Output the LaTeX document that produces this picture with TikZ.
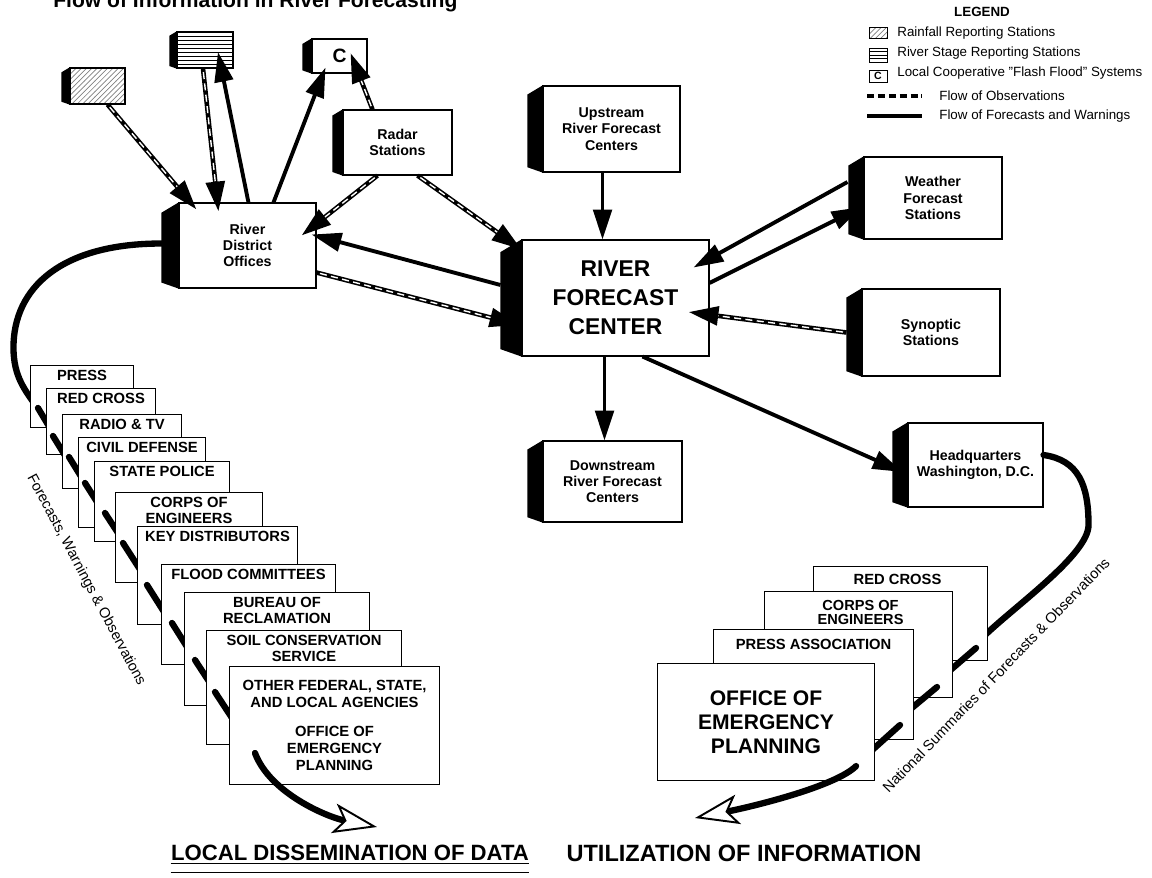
\documentclass[tikz,border=0pt]{standalone}
\usepackage{fontspec}
\setmainfont{Liberation Sans}
\usetikzlibrary{arrows.meta,calc,patterns}

% black left face of a station box
\newcommand{\sidewall}[2]{%
  \fill ($(#1.north west)+(-#2,0.6*#2)$) -- (#1.north west) -- (#1.south west) -- ($(#1.south west)+(-#2,-0.35*#2)$) -- cycle;}

\begin{document}
\begin{tikzpicture}[
      x=0.02cm, y=-0.02cm,
      sized/.style 2 args={minimum width=(#1)*0.02cm, minimum height=(#2)*0.02cm},
      station/.style={draw, fill=white, line width=0.6pt, inner sep=0pt, align=center, font=\fontsize{8.1}{9.2}\selectfont\bfseries},
      agency/.style={draw, fill=white, line width=0.6pt, inner sep=0pt},
      tag/.style={anchor=north, inner sep=0pt, align=center, font=\fontsize{8.4}{9.1}\selectfont\bfseries},
      striped/.style={path picture={\foreach \k [evaluate=\k as \f using \k/(#1+1)] in {1,...,#1}
          \draw[line width=0.45pt] ($(path picture bounding box.north west)!\f!(path picture bounding box.south west)$) -- ($(path picture bounding box.north east)!\f!(path picture bounding box.south east)$);}},
      fcst/.style={line width=2.2pt, -{Triangle[length=17pt,width=10.5pt]}},
      obs/.style={line width=2.6pt, -{Triangle[length=17pt,width=10.5pt]},
          postaction={draw=white, line width=0.8pt, dash pattern=on 4pt off 2.5pt, -, shorten >=17pt, shorten <=2pt}},
      flow/.style={line width=3.6pt, line cap=round},
      bigtip/.style={-{Stealth[length=25pt, width=17pt, inset=6pt, fill=white, line width=1.1pt]}},
      legtext/.style={anchor=west, inner sep=0pt, font=\fontsize{7.6}{9}\selectfont},
      curvetext/.style={inner sep=0pt, font=\fontsize{8.3}{9}\selectfont},
      heading/.style={inner sep=0pt, font=\fontsize{12.6}{14}\selectfont\bfseries}
    ]
    \useasboundingbox (0,0) rectangle (1152,877);

    % Title and legend
    \node[anchor=base west, inner sep=0pt, font=\fontsize{12}{14}\selectfont\bfseries] (title) at (53,7) {Flow of Information in River Forecasting};
    \node[inner sep=0pt, font=\fontsize{7.6}{9}\selectfont\bfseries] (leg) at (982,12) {LEGEND};
    \node[draw, line width=0.5pt, pattern=north east lines, pattern color=gray, sized={18}{10}] (lrainbox) at (878,33) {};
    \node[legtext] (lrain) at (897,33) {Rainfall Reporting Stations};
    \node[draw, line width=0.5pt, striped=3, sized={18}{14}] (lstagebox) at (878,55) {};
    \node[legtext] (lstage) at (897,53) {River Stage Reporting Stations};
    \node[draw, line width=0.5pt, inner sep=0pt, sized={18}{12}, font=\fontsize{6}{6}\selectfont\bfseries] (lcbox) at (878,76) {C};
    \node[legtext] (lc) at (897,73) {Local Cooperative ''Flash Flood'' Systems};
    \node[legtext] (lobs) at (939,96) {Flow of Observations};
    \draw[line width=2.2pt, dash pattern=on 4pt off 2.2pt] ($(lobs.west)+(-72,0)$) -- ++(55,0);
    \node[legtext] (lfc) at (939,116) {Flow of Forecasts and Warnings};
    \draw[line width=2.4pt] ($(lfc.west)+(-72,0)$) -- ++(55,0);

    % Stations and centers
    \node[station, sized={55}{36}, pattern=north east lines, pattern color=gray] (rain) at (97.5,86) {};
    \node[station, sized={56}{36}, striped=8] (stage) at (205,50) {};
    \node[station, sized={55}{34}, font=\fontsize{11}{12}\selectfont\bfseries] (cbox) at (339.5,56) {C};
    \node[station, sized={137}{85}] (rdo) at (247.5,245.5) {River\\District\\Offices};
    \node[station, sized={109}{65}] (radar) at (397.5,142.5) {Radar\\Stations};
    \node[station, sized={137}{86}] (up) at (611.5,129) {Upstream\\River Forecast\\Centers};
    \node[station, sized={187}{116}, font=\fontsize{13}{16.4}\selectfont\bfseries] (rfc) at (615.5,298) {RIVER\\FORECAST\\CENTER};
    \node[station, sized={139}{81}] (down) at (612.5,481.5) {Downstream\\River Forecast\\Centers};
    \node[station, sized={138}{82}] (wx) at (933,198) {Weather\\Forecast\\Stations};
    \node[station, sized={138}{87}] (syn) at (931,332.5) {Synoptic\\Stations};
    \node[station, sized={135}{84}] (hq) at (975.5,465) {Headquarters\\Washington, D.C.};
    \foreach \n/\d in {rain/8, stage/7, cbox/9, rdo/17, radar/10, up/15, rfc/21, down/15, wx/15, syn/15, hq/15}
      \sidewall{\n}{\d};

    % Observations and forecasts
    \draw[obs] ($(rain.south)+(10,0)$) -- ($(rdo.north west)+(18,7)$);
    \draw[obs] ($(stage.south)+(-2,0)$) -- ($(rdo.north west)+(40,9)$);
    \draw[fcst] ($(rdo.north west)+(70,0)$) -- ($(stage.center)+(13,2)$);
    \draw[fcst] ($(rdo.north west)+(95,0)$) -- ($(cbox.south west)+(14,-6)$);
    \draw[obs] ($(radar.north west)+(30,0)$) -- ($(cbox.center)+(11,-3)$);
    \draw[obs] ($(radar.south west)+(35,0)$) -- ($(rdo.east)+(-15,-10)$);
    \draw[obs] ($(radar.south)+(20,0)$) -- ($(rfc.north west)+(0,10)$);
    \draw[fcst] ($(rfc.west)+(-21,-13)$) -- ($(rdo.east)+(-5,-11)$);
    \draw[obs] ($(rdo.south east)+(0,-16)$) -- ($(rfc.west)+(-2,27)$);
    \draw[fcst] ($(up.south)+(-9,0)$) -- ($(rfc.north)+(-13,0)$);
    \draw[fcst] ($(rfc.south)+(-11,0)$) -- ($(down.north)+(-8,0)$);
    \draw[fcst] ($(wx.west)+(-16,-16)$) -- ($(rfc.north east)+(-16,28)$);
    \draw[fcst] ($(rfc.east)+(0,-15)$) -- ($(wx.west)+(-2,9)$);
    \draw[obs] ($(syn.west)+(-15,0)$) -- ($(rfc.east)+(-21,14)$);
    \draw[fcst] ($(rfc.south)+(27,0)$) -- ($(hq.west)+(-5,7)$);

    % Local dissemination
    \coordinate (lend) at (36,406);
    \draw[flow] ($(rdo.west)+(-17,-2)$) .. controls +(-100,0) and +(0,-60) .. ++(-148,104)
      .. controls +(0,30) and +(-10,-15) .. (lend);
    \foreach \n/\xl/\yt/\xr/\yb/\txt/\sx/\sy/\ex/\ey in {
        press/30/365/133/427/PRESS/38/408/50/428,
        redl/46/388/155/454/RED CROSS/53/436/66/457,
        radio/62/414/181/488/RADIO \& TV/69/457/82/478,
        civil/78/437/205/527/CIVIL DEFENSE/85/483/99/505,
        state/94/461/229/541/STATE POLICE/105/513/120/536,
        corpsl/115/492/262/582/{CORPS OF\\ENGINEERS}/123/543/141/571,
        key/137/526/297/624/KEY DISTRIBUTORS/147/585/166/615,
        flood/161/564/335/664/FLOOD COMMITTEES/172/623/189/650,
        bureau/184/592/369/705/{BUREAU OF\\RECLAMATION}/195/660/212/686,
        soil/206/630/401/744/{SOIL CONSERVATION\\SERVICE}/215/692/234/721}
    {
      \node[agency, anchor=north west, sized={\xr-\xl}{\yb-\yt}] (\n) at (\xl,\yt) {};
      \node[tag] (\n-t) at ($(\n.north)+(0,5)$) {\txt};
      \draw[flow] (\sx,\sy) -- (\ex,\ey);
    }
    \node[agency, anchor=north west, sized={210}{118}] (oepl) at (229,666) {};
    \node[tag, font=\fontsize{8.4}{9.6}\selectfont\bfseries] (oepl-t) at ($(oepl.north)+(0,14)$)
      {OTHER FEDERAL, STATE,\\AND LOCAL AGENCIES\\[6.8pt]OFFICE OF\\EMERGENCY\\PLANNING};
    \coordinate (ldtip) at (377,827);
    \draw[flow, bigtip] ($(oepl.south west)+(26,-32)$) .. controls +(15,40) and +(-50,-10) .. (ldtip);
    \node[curvetext, rotate=-62] (lflabel) at (86,580) {Forecasts, Warnings \& Observations};

    % National summaries
    \coordinate (rend) at (982,638);
    \draw[flow] ($(hq.east)+(0,-10)$) .. controls +(35,5) and +(0,-40) .. ++(45,70)
      .. controls +(0,30) and +(30,-30) .. (rend);
    \node[agency, anchor=north west, sized={174}{94}] (redr) at (813,566) {};
    \node[tag] (redr-t) at ($(redr.north)+(-3,8)$) {RED CROSS};
    \draw[flow] (976,648) -- (947,673);
    \node[agency, anchor=north west, sized={188}{106}] (corpsr) at (764,591) {};
    \node[tag, font=\fontsize{8.3}{8.0}\selectfont\bfseries] (corpsr-t) at ($(corpsr.north)+(2,9)$) {CORPS OF\\ENGINEERS};
    \draw[flow] (937,687) -- (907,712);
    \node[agency, anchor=north west, sized={200}{110}] (pressa) at (713,629) {};
    \node[tag] (pressa-t) at ($(pressa.north)+(0,10)$) {PRESS ASSOCIATION};
    \draw[flow] (900,725) -- (870,752);
    \node[agency, anchor=north west, sized={217}{117}, align=center, font=\fontsize{12}{13.6}\selectfont\bfseries] (oepr) at (657,663) {OFFICE OF\\EMERGENCY\\PLANNING};
    \coordinate (uitip) at (695,818);
    \draw[flow, bigtip] ($(oepr.south east)+(-19,-15)$) .. controls +(-20,20) and +(60,-12) .. (uitip);
    \node[curvetext, rotate=46] (rflabel) at (996,675) {National Summaries of Forecasts \& Observations};

    % Headings
    \node[heading] (ldtitle) at (350,853) {LOCAL DISSEMINATION OF DATA};
    \draw[line width=0.7pt] ([yshift=-1.8pt]ldtitle.base west) -- ([yshift=-1.8pt]ldtitle.base east);
    \draw[line width=0.7pt] ([yshift=-6.8pt]ldtitle.base west) -- ([yshift=-6.8pt]ldtitle.base east);
    \node[heading, font=\fontsize{13.4}{14}\selectfont\bfseries] (uititle) at (744,853) {UTILIZATION OF INFORMATION};
  \end{tikzpicture}
\end{document}
